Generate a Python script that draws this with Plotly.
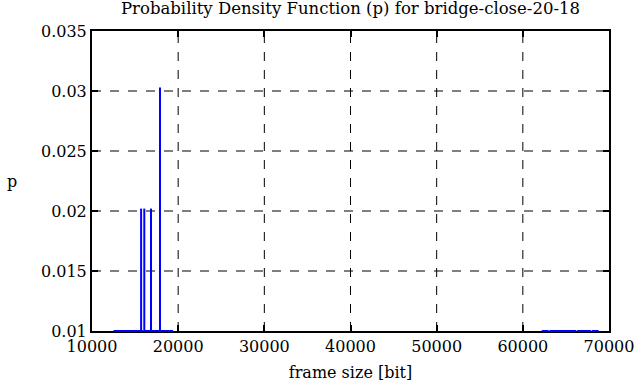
import plotly.graph_objects as go

# Data
frame_sizes = [15700, 16070, 16850, 17890]
probabilities = [0.0202, 0.0202, 0.0202, 0.0303]
# low-probability frame sizes (values fall below the y range, shown on the bottom border)
low_sizes = [12900, 13300, 13700, 14100, 14500, 15200, 15500, 16400, 17000, 17400, 17700,
             18100, 18600, 19000, 62600, 63500, 63900, 64300, 65000, 65400, 65800,
             66700, 67500, 68400]
low_probs = [0.0005, 0.0005, 0.0005, 0.0005, 0.0005, 0.001, 0.001, 0.001, 0.001, 0.001, 0.001,
             0.001, 0.0005, 0.0005, 0.0005, 0.0005, 0.0005, 0.0005, 0.0005, 0.0005, 0.0005,
             0.0005, 0.0005, 0.0005]

x_ticks = [10000, 20000, 30000, 40000, 50000, 60000, 70000]
y_ticks = [0.01, 0.015, 0.02, 0.025, 0.03, 0.035]
y_min, y_max = 0.01, 0.035

title = "Probability Density Function (p) for bridge-close-20-18"
xlabel = "frame size [bit]"
ylabel = "p"

FONT = "DejaVu Serif, serif"
BLUE = "#0000ff"

# impulses built from data
ix, iy = [], []
for x, v in zip(frame_sizes, probabilities):
    ix += [x, x, None]
    iy += [0, v, None]

fig = go.Figure()
fig.add_trace(go.Scatter(x=ix, y=iy, mode="lines", line=dict(color=BLUE, width=2),
                         hoverinfo="skip", showlegend=False))
# clipped low values drawn at the bottom border
fig.add_trace(go.Scatter(x=low_sizes, y=[max(v, y_min) for v in low_probs], mode="markers",
                         marker=dict(symbol="line-ew", size=5, color=BLUE,
                                     line=dict(color=BLUE, width=2)),
                         cliponaxis=False, hoverinfo="skip", showlegend=False))

grid_shapes = []
for xv in x_ticks[1:-1]:
    grid_shapes.append(dict(type="line", xref="x", yref="paper", x0=xv, x1=xv, y0=0, y1=1,
                            line=dict(color="black", width=1, dash="dash"), layer="below"))
for yv in y_ticks[1:-1]:
    grid_shapes.append(dict(type="line", xref="paper", yref="y", x0=0, x1=1, y0=yv, y1=yv,
                            line=dict(color="black", width=1, dash="dash"), layer="below"))

fig.update_layout(
    width=637, height=387,
    margin=dict(l=92, r=28, t=31, b=56, autoexpand=False),
    paper_bgcolor="white", plot_bgcolor="white",
    font=dict(family=FONT, color="black", size=16),
    title=dict(text=title, x=0.5, xref="paper", xanchor="center", y=0.993, yanchor="top",
               font=dict(family=FONT, size=16.5)),
    shapes=grid_shapes,
    annotations=[dict(text=ylabel, x=-0.155, y=0.5, xref="paper", yref="paper", showarrow=False,
                      xanchor="center", font=dict(family=FONT, size=16))],
    xaxis=dict(range=[10000, 70000], tickvals=x_ticks, ticktext=[str(t) for t in x_ticks],
               ticks="inside", ticklen=6, tickwidth=2, tickcolor="black",
               tickfont=dict(family=FONT, size=16),
               showline=True, linecolor="black", linewidth=2, mirror="ticks",
               showgrid=False, zeroline=False, automargin=False, layer="below traces",
               title=dict(text=xlabel, standoff=12, font=dict(family=FONT, size=16))),
    yaxis=dict(range=[y_min, y_max], tickvals=y_ticks, ticktext=[("%g" % t) for t in y_ticks],
               ticks="inside", ticklen=6, tickwidth=2, tickcolor="black",
               tickfont=dict(family=FONT, size=16),
               showline=True, linecolor="black", linewidth=2, mirror="ticks",
               showgrid=False, zeroline=False, automargin=False, layer="below traces"),
)

fig.write_html("out.html", post_script="document.body.style.margin='0px';",
               config={"displayModeBar": False})
